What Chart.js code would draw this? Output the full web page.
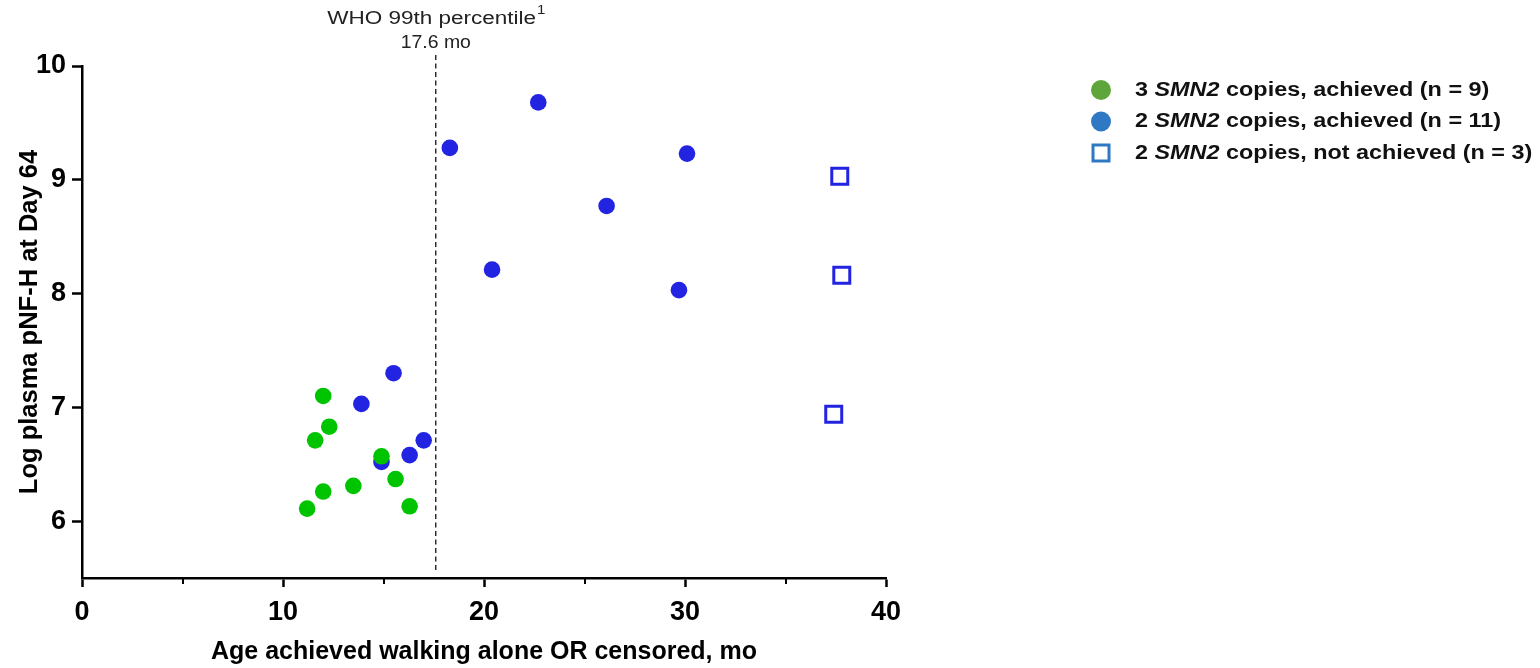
<!DOCTYPE html>
<html>
<head>
<meta charset="utf-8">
<script src="https://cdn.jsdelivr.net/npm/chart.js@4"></script>
<style>
  html, body { margin: 0; padding: 0; background: #fff; }
  #wrap { width: 1540px; height: 668px; }
</style>
</head>
<body>
<div id="wrap"><canvas id="c" width="1540" height="668"></canvas></div>
<script>
// Age (months) at which walking alone was achieved or censored, and log plasma pNF-H at Day 64
const threeCopiesAge  = [11.2, 12.0, 12.0, 11.6, 12.3, 13.5, 14.9, 15.6, 16.3];
const threeCopiesNfh  = [6.11, 6.26, 7.10, 6.71, 6.83, 6.31, 6.57, 6.37, 6.13];

const twoCopiesAge    = [14.9, 13.9, 15.5, 16.3, 17.0, 18.3, 22.7, 20.4, 26.1, 30.1, 29.7];
const twoCopiesNfh    = [6.52, 7.03, 7.30, 6.58, 6.71, 9.28, 9.68, 8.21, 8.77, 9.23, 8.03];

const notAchievedAge  = [37.7, 37.8, 37.4];
const notAchievedNfh  = [9.03, 8.16, 6.94];

const xTicks = [0, 10, 20, 30, 40];
const xMinorTicks = [5, 15, 25, 35];
const yTicks = [6, 7, 8, 9, 10];

const whoPercentile = 17.6;

const legendItems = [
  { pre: '3 ', gene: 'SMN2', post: ' copies, achieved (n = 9)', marker: 'circle', color: '#5ea53b' },
  { pre: '2 ', gene: 'SMN2', post: ' copies, achieved (n = 11)', marker: 'circle', color: '#2f78c4' },
  { pre: '2 ', gene: 'SMN2', post: ' copies, not achieved (n = 3)', marker: 'square', color: '#2f78c4' }
];

const toPoints = (xs, ys) => xs.map((x, i) => ({ x, y: ys[i] }));

const FONT = '"Liberation Sans", Arial, sans-serif';

// Text drawn slightly widened horizontally, the way the figure's typeface sets it
function wideText(ctx, text, x, y, sx) {
  ctx.save();
  ctx.translate(x, y);
  ctx.scale(sx, 1);
  ctx.fillText(text, 0, 0);
  ctx.restore();
  return ctx.measureText(text).width * sx;
}

// Dashed reference line, minor x ticks and the side legend
const extras = {
  id: 'extras',
  afterDraw(chart) {
    const { ctx, chartArea, scales } = chart;
    const xs = scales.x;

    // minor ticks on the x axis
    ctx.save();
    ctx.strokeStyle = '#000';
    ctx.lineWidth = 2;
    xMinorTicks.forEach(v => {
      const px = Math.round(xs.getPixelForValue(v));
      ctx.beginPath();
      ctx.moveTo(px, chartArea.bottom);
      ctx.lineTo(px, chartArea.bottom + 6);
      ctx.stroke();
    });
    ctx.restore();

    // WHO 99th percentile line
    const lx = xs.getPixelForValue(whoPercentile);
    ctx.save();
    ctx.strokeStyle = '#111';
    ctx.lineWidth = 1.3;
    ctx.setLineDash([5, 3.5]);
    ctx.beginPath();
    ctx.moveTo(lx, chartArea.top - 11);
    ctx.lineTo(lx, chartArea.bottom - 8);
    ctx.stroke();
    ctx.restore();

    ctx.save();
    ctx.fillStyle = '#222';
    ctx.textBaseline = 'middle';
    ctx.textAlign = 'left';
    const sx = 1.25;
    const t1 = 'WHO 99th percentile';
    ctx.font = '18px ' + FONT;
    const w1 = ctx.measureText(t1).width * sx;
    ctx.font = '12px ' + FONT;
    const ws = ctx.measureText('1').width * sx;
    const start = lx - (w1 + ws) / 2;
    ctx.font = '18px ' + FONT;
    wideText(ctx, t1, start, 19, sx);
    ctx.font = '12px ' + FONT;
    wideText(ctx, '1', start + w1 + 1, 11, sx);
    ctx.font = '18px ' + FONT;
    const t2 = '17.6 mo';
    const w2 = ctx.measureText(t2).width * 1.08;
    wideText(ctx, t2, lx - w2 / 2, 43, 1.08);
    ctx.restore();

    // legend
    ctx.save();
    const mx = 1101, tx = 1135, lsx = 1.17;
    let y = 90;
    legendItems.forEach(item => {
      if (item.marker === 'circle') {
        ctx.fillStyle = item.color;
        ctx.beginPath();
        ctx.arc(mx, y, 10, 0, Math.PI * 2);
        ctx.fill();
      } else {
        ctx.strokeStyle = item.color;
        ctx.lineWidth = 3;
        ctx.fillStyle = '#fff';
        ctx.fillRect(mx - 8, y - 8, 16, 16);
        ctx.strokeRect(mx - 8, y - 8, 16, 16);
      }
      ctx.fillStyle = '#111';
      ctx.textBaseline = 'middle';
      ctx.textAlign = 'left';
      let x = tx;
      ctx.font = 'bold 20px ' + FONT;
      x += wideText(ctx, item.pre, x, y, lsx);
      ctx.font = 'italic bold 20px ' + FONT;
      x += wideText(ctx, item.gene, x, y, lsx);
      ctx.font = 'bold 20px ' + FONT;
      wideText(ctx, item.post, x, y, lsx);
      y += 31.5;
    });
    ctx.restore();
  }
};

new Chart(document.getElementById('c'), {
  type: 'scatter',
  data: {
    datasets: [
      {
        label: '3 SMN2 copies, achieved (n = 9)',
        data: toPoints(threeCopiesAge, threeCopiesNfh),
        pointStyle: 'circle',
        pointRadius: 8.3,
        pointHoverRadius: 8.3,
        backgroundColor: '#00c400',
        borderColor: '#00c400',
        borderWidth: 0
      },
      {
        label: '2 SMN2 copies, achieved (n = 11)',
        data: toPoints(twoCopiesAge, twoCopiesNfh),
        pointStyle: 'circle',
        pointRadius: 8.3,
        pointHoverRadius: 8.3,
        backgroundColor: '#2323e2',
        borderColor: '#2323e2',
        borderWidth: 0
      },
      {
        label: '2 SMN2 copies, not achieved (n = 3)',
        data: toPoints(notAchievedAge, notAchievedNfh),
        pointStyle: 'rect',
        pointRadius: 11.3,
        pointHoverRadius: 11.3,
        backgroundColor: '#ffffff',
        borderColor: '#2323e2',
        borderWidth: 3
      }
    ]
  },
  options: {
    responsive: false,
    animation: false,
    events: [],
    layout: { padding: { left: 0, top: 66, right: 654, bottom: 0 } },
    plugins: {
      legend: { display: false },
      tooltip: { enabled: false }
    },
    scales: {
      x: {
        type: 'linear',
        min: 0,
        max: 40,
        afterBuildTicks(scale) { scale.ticks = xTicks.map(v => ({ value: v })); },
        afterFit(scale) { scale.height = 90; },
        border: { display: true, color: '#000', width: 2.5 },
        grid: { drawOnChartArea: false, drawTicks: true, tickLength: 9, tickWidth: 2.5, tickColor: '#000' },
        ticks: {
          color: '#000',
          padding: 9,
          font: { family: FONT, size: 27, weight: 'bold' }
        },
        title: {
          display: true,
          text: 'Age achieved walking alone OR censored, mo',
          color: '#000',
          padding: { top: 0, bottom: 1 },
          font: { family: FONT, size: 25, weight: 'bold' }
        }
      },
      y: {
        type: 'linear',
        min: 5.5,
        max: 10,
        afterBuildTicks(scale) { scale.ticks = yTicks.map(v => ({ value: v })); },
        afterFit(scale) { scale.width = 82; },
        border: { display: true, color: '#000', width: 2.5 },
        grid: { drawOnChartArea: false, drawTicks: true, tickLength: 10, tickWidth: 2.5, tickColor: '#000' },
        ticks: {
          color: '#000',
          padding: 6,
          font: { family: FONT, size: 27, weight: 'bold' }
        },
        title: {
          display: true,
          text: 'Log plasma pNF-H at Day 64',
          color: '#000',
          padding: { top: 15, bottom: 0 },
          font: { family: FONT, size: 25.5, weight: 'bold' }
        }
      }
    }
  },
  plugins: [extras]
});
</script>
</body>
</html>
